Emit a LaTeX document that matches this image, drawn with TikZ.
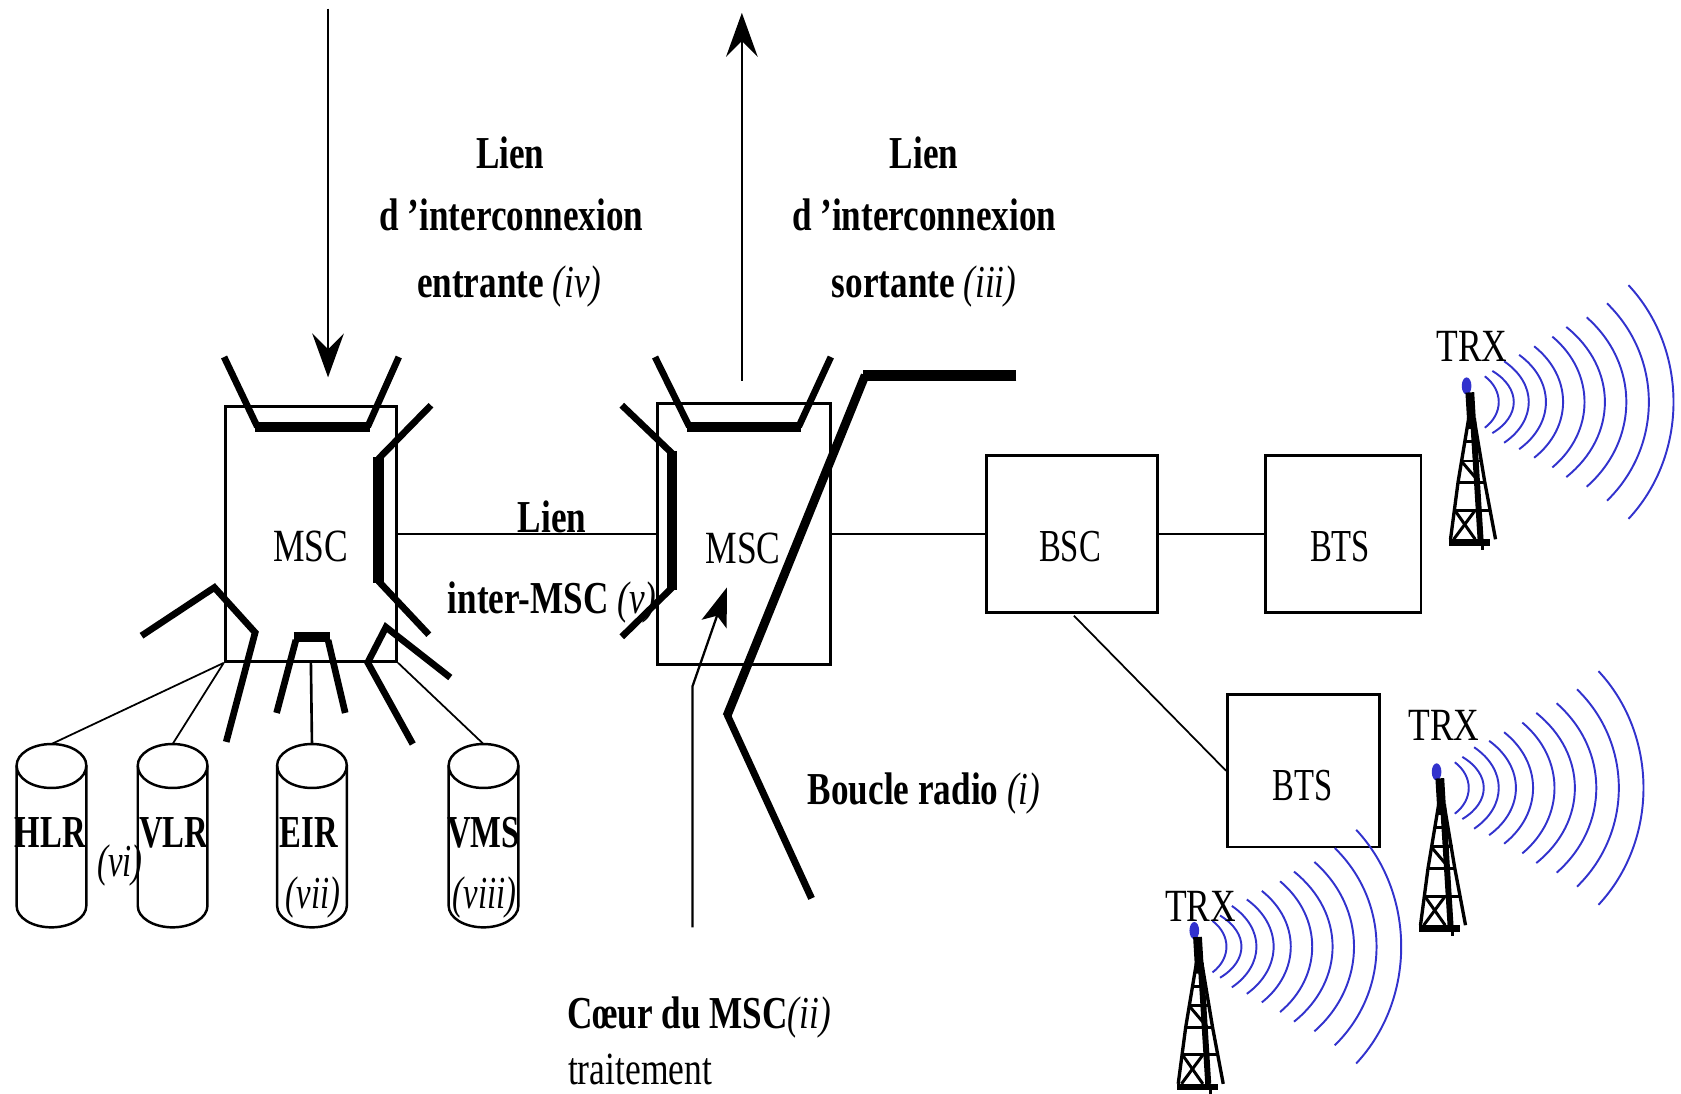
\documentclass[tikz,border=0pt]{standalone}
\usepackage{fontspec}
\setmainfont{Liberation Serif}
\usepackage{tikz,xcolor}
\usetikzlibrary{arrows.meta}
\definecolor{wave}{RGB}{50,50,205}
\def\un{.61pt}
\newcommand{\rmnum}[1]{{\mdseries\itshape(#1)}}
\newcommand{\trxmast}[2]{%
  \begin{scope}[shift={(#1,#2)}]
    \fill[wave] (0,0) ellipse (4.5 and 8);
    \draw[line width=5pt] (3,6)--(5,40);
    \draw[line width=1.9pt] (2,30)--(-8,90)--(-15,143);
    \draw[line width=1.9pt] (7,30)--(17,90)--(27,143);
    \draw[line width=3.4pt] (6,30)--(13,143);
    \draw[line width=1.7pt] (-2,52)--(12,52);
    \draw[line width=1.7pt] (-5,70)--(15,70);
    \draw[line width=1.7pt] (-8,90)--(17,90);
    \draw[line width=1.7pt] (-11,116)--(22,116);
    \draw[line width=1.7pt] (-5,70)--(12,90);
    \draw[line width=1.7pt] (-11,116)--(8,143);
    \draw[line width=1.7pt] (8,116)--(-12,143);
    \draw[line width=3.6pt] (-16,146)--(22,146);
    \draw[line width=1.4pt] (15,146)--(15,153);
    \foreach \ex/\tx/\hh in {17/30/24,24/44/29,35/58/38,49/74/44,63/90/52,80/110/61,93/129/70,112/149/79,131/170/92,151/193/109}
      \draw[wave,line width=1.1pt] (\ex,15-\hh) .. controls ({\ex+(\tx-\ex)*4/3},{15-\hh*.45}) and ({\ex+(\tx-\ex)*4/3},{15+\hh*.45}) .. (\ex,15+\hh);
  \end{scope}}
\begin{document}
\begin{tikzpicture}[x=.021441cm,y=-.021441cm]
\tikzstyle{box}=[draw,rectangle,line width=1.6pt,inner sep=0pt]
\tikzstyle{store}=[line width=1.4pt]
\tikzstyle{txt}=[font=\fontsize{18.6}{20}\selectfont,yscale=1.4,transform shape,inner sep=0pt]
\tikzstyle{widetxt}=[font=\fontsize{20.2}{22}\selectfont,yscale=1.3,transform shape,inner sep=0pt]
\tikzstyle{dbtxt}=[font=\fontsize{18.6}{20}\selectfont\bfseries,yscale=1.4,transform shape,inner sep=0pt]
\tikzstyle{boldtxt}=[font=\fontsize{20}{22}\selectfont\bfseries,yscale=1.3,transform shape,inner sep=0pt]
\tikzstyle{link}=[line width=1.5pt]
\tikzstyle{bus}=[line width=3.8pt,line join=miter]
\tikzstyle{heavy}=[line width=5.8pt,line cap=butt]
\tikzstyle{bigarrow}=[line width=1.4pt,-{Stealth[length=25pt,width=18pt,inset=9pt]}]
\useasboundingbox (0,0) rectangle (1568,1020);
    % switches and radio side
    \node[box,minimum width=160*\un,minimum height=238*\un](msc1) at (290,498){};
    \node[box,minimum width=162*\un,minimum height=244*\un](msc2) at (694,498){};
    \node[box,minimum width=160*\un,minimum height=146*\un](bsc) at (1000,498){};
    \node[box,minimum width=145*\un,minimum height=146*\un](bts1) at (1253,498){};
    \node[box,minimum width=142*\un,minimum height=142*\un](bts2) at (1216,719){};
    \node[widetxt](msclab1) at (290,510){MSC};
    \node[widetxt](msclab2) at (693,512){MSC};
    \node[txt](bsclab) at (998,510){BSC};
    \node[txt](btslab1) at (1250,510){BTS};
    \node[txt](btslab2) at (1215,733){BTS};
    % databases
    \foreach \tag/\xc in {hlr/48,vlr/161,eir/291,vms/451}{
      \coordinate(\tag) at (\xc,694);
      \draw[store] (\xc-32.5,714) .. controls (\xc-32.5,703) and (\xc-18,694) .. (\xc,694)
        .. controls (\xc+18,694) and (\xc+32.5,703) .. (\xc+32.5,714)
        -- (\xc+32.5,845) .. controls (\xc+32.5,856) and (\xc+18,865) .. (\xc,865)
        .. controls (\xc-18,865) and (\xc-32.5,856) .. (\xc-32.5,845) -- cycle;
      \draw[store] (\xc-32.5,714) .. controls (\xc-32.5,726) and (\xc-18,735) .. (\xc,735)
        .. controls (\xc+18,735) and (\xc+32.5,726) .. (\xc+32.5,714);
    }
    \node[dbtxt](hlrlab) at (47,777){HLR};
    \node[dbtxt](vlrlab) at (162,777){VLR};
    \node[dbtxt](eirlab) at (288,777){EIR};
    \node[dbtxt](vmslab) at (451,777){VMS};
    \node[dbtxt](hlrnum) at (112,807){\rmnum{vi}};
    \node[dbtxt](eirnum) at (292,837){\rmnum{vii}};
    \node[dbtxt](vmsnum) at (452,837){\rmnum{viii}};
    \draw[line width=1pt](msc1.south west)--(hlr);
    \draw[line width=1pt](msc1.south west)--(vlr);
    \draw[link](msc1.south)--(eir);
    \draw[line width=1pt](msc1.south east)--(vms);
    \draw[link](msc1.east)--(msc2.west);
    \draw[link](msc2.east)--(bsc.west);
    \draw[link](bsc.east)--(bts1.west);
    \draw[line width=1pt](bsc.south west)++(83,2)--(bts2.west);
    % thick access points of the first switch
    \draw[bus](209,333)--(240,398);
    \draw[bus](372,333)--(343,398);
    \draw[heavy](238,398)--(345,398);
    \draw[bus](402,378)--(353,428);
    \draw[heavy](353,426)--(353,544);
    \draw[bus](353,542)--(400,592);
    \draw[bus](132,593)--(200,548)--(238,590)--(211,692);
    \draw[bus](258,665)--(276,597);
    \draw[heavy](274,594)--(308,594);
    \draw[bus](306,597)--(322,665);
    \draw[bus](420,632)--(360,585)--(343,618)--(385,694);
    % thick access points of the second switch
    \draw[bus](611,333)--(643,398);
    \draw[bus](775,333)--(745,398);
    \draw[heavy](641,398)--(747,398);
    \draw[bus](580,378)--(627,423);
    \draw[heavy](627,421)--(627,550);
    \draw[bus](627,548)--(580,594);
    % radio loop
    \draw[line width=6pt](948,350)--(805,350);
    \draw[line width=5pt](807,350)--(678,668);
    \draw[line width=4pt](678,666)--(757,838);
    % interconnection arrows
    \coordinate(infrom) at (306,8);
    \coordinate(into) at (306,352);
    \coordinate(outfrom) at (692,355);
    \coordinate(outto) at (692,12);
    \coordinate(corefrom) at (646,865);
    \coordinate(corebend) at (646,640);
    \coordinate(coreto) at (678,548);
    \draw[bigarrow](infrom)--(into);
    \draw[bigarrow](outfrom)--(outto);
    \draw[line width=1.3pt,-{Stealth[length=22pt,width=15pt,inset=5pt]}](corefrom)--(corebend)--(coreto);
    % labels
    \node[boldtxt](lien1) at (476,143){Lien};
    \node[boldtxt](inter1) at (477,200){d 'interconnexion};
    \node[boldtxt](entrante) at (475,267){entrante \rmnum{iv}};
    \node[boldtxt](lien2) at (862,143){Lien};
    \node[boldtxt](inter2) at (862,200){d 'interconnexion};
    \node[boldtxt](sortante) at (862,267){sortante \rmnum{iii}};
    \node[boldtxt](lien3) at (515,482){Lien};
    \node[boldtxt](intermsc) at (515,562){inter-MSC \rmnum{v}};
    \node[boldtxt](boucle) at (862,740){Boucle radio \rmnum{i}};
    \node[boldtxt](coeur) at (652,949){Cœur du MSC\rmnum{ii}};
    \node[widetxt](traitement) at (597,998){traitement};
    % towers
    \trxmast{1368}{360}
    \trxmast{1340}{720}
    \trxmast{1114}{868}
    \node[widetxt](trx1) at (1373,323){TRX};
    \node[widetxt](trx2) at (1347,677){TRX};
    \node[widetxt](trx3) at (1120,845){TRX};
\end{tikzpicture}
\end{document}
